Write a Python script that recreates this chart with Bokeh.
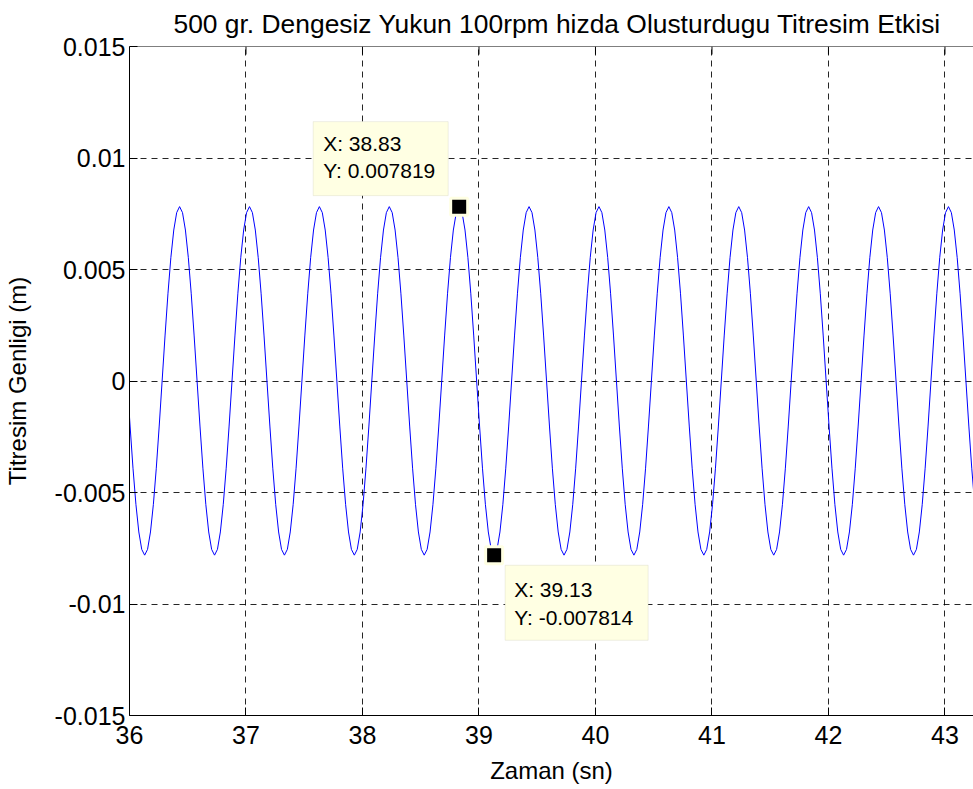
from bokeh.plotting import figure
from bokeh.models import Range1d, FixedTicker, BoxAnnotation, Label, Span
from bokeh.embed import file_html
from bokeh.resources import INLINE

# ---------------- data ----------------
title_text = "500 gr. Dengesiz Yukun 100rpm hizda Olusturdugu Titresim Etkisi"
x_label = "Zaman (sn)"
y_label = "Titresim Genligi (m)"

x_ticks = [36, 37, 38, 39, 40, 41, 42, 43]
y_ticks = [-0.015, -0.01, -0.005, 0, 0.005, 0.01, 0.015]
y_tick_labels = ["-0.015", "-0.01", "-0.005", "0", "0.005", "0.01", "0.015"]

# sample times: start and step of the recorded signal
t_start = 35.98
t_step = 0.025

# displacement amplitude (m)
amplitude = [
    0.0, -0.00202, -0.00391, -0.00553, -0.00677, -0.00755, -0.00781, -0.00755, -0.00677, -0.00553, -0.00391, -0.00202,
    0.0, 0.00202, 0.00391, 0.00553, 0.00677, 0.00755, 0.00782, 0.00755, 0.00677, 0.00553, 0.00391, 0.00202,
    0.0, -0.00202, -0.00391, -0.00553, -0.00677, -0.00755, -0.00781, -0.00755, -0.00677, -0.00553, -0.00391, -0.00202,
    0.0, 0.00202, 0.00391, 0.00553, 0.00677, 0.00755, 0.00782, 0.00755, 0.00677, 0.00553, 0.00391, 0.00202,
    0.0, -0.00202, -0.00391, -0.00553, -0.00677, -0.00755, -0.00781, -0.00755, -0.00677, -0.00553, -0.00391, -0.00202,
    0.0, 0.00202, 0.00391, 0.00553, 0.00677, 0.00755, 0.00782, 0.00755, 0.00677, 0.00553, 0.00391, 0.00202,
    0.0, -0.00202, -0.00391, -0.00553, -0.00677, -0.00755, -0.00781, -0.00755, -0.00677, -0.00553, -0.00391, -0.00202,
    0.0, 0.00202, 0.00391, 0.00553, 0.00677, 0.00755, 0.00782, 0.00755, 0.00677, 0.00553, 0.00391, 0.00202,
    0.0, -0.00202, -0.00391, -0.00553, -0.00677, -0.00755, -0.00781, -0.00755, -0.00677, -0.00553, -0.00391, -0.00202,
    0.0, 0.00202, 0.00391, 0.00553, 0.00677, 0.00755, 0.00782, 0.00755, 0.00677, 0.00553, 0.00391, 0.00202,
    0.0, -0.00202, -0.00391, -0.00553, -0.00677, -0.00755, -0.00781, -0.00755, -0.00677, -0.00553, -0.00391, -0.00202,
    0.0, 0.00202, 0.00391, 0.00553, 0.00677, 0.00755, 0.00782, 0.00755, 0.00677, 0.00553, 0.00391, 0.00202,
    0.0, -0.00202, -0.00391, -0.00553, -0.00677, -0.00755, -0.00781, -0.00755, -0.00677, -0.00553, -0.00391, -0.00202,
    0.0, 0.00202, 0.00391, 0.00553, 0.00677, 0.00755, 0.00782, 0.00755, 0.00677, 0.00553, 0.00391, 0.00202,
    0.0, -0.00202, -0.00391, -0.00553, -0.00677, -0.00755, -0.00781, -0.00755, -0.00677, -0.00553, -0.00391, -0.00202,
    0.0, 0.00202, 0.00391, 0.00553, 0.00677, 0.00755, 0.00782, 0.00755, 0.00677, 0.00553, 0.00391, 0.00202,
    0.0, -0.00202, -0.00391, -0.00553, -0.00677, -0.00755, -0.00781, -0.00755, -0.00677, -0.00553, -0.00391, -0.00202,
    0.0, 0.00202, 0.00391, 0.00553, 0.00677, 0.00755, 0.00782, 0.00755, 0.00677, 0.00553, 0.00391, 0.00202,
    0.0, -0.00202, -0.00391, -0.00553, -0.00677, -0.00755, -0.00781, -0.00755, -0.00677, -0.00553, -0.00391, -0.00202,
    0.0, 0.00202, 0.00391, 0.00553, 0.00677, 0.00755, 0.00782, 0.00755, 0.00677, 0.00553, 0.00391, 0.00202,
    0.0, -0.00202, -0.00391, -0.00553, -0.00677, -0.00755, -0.00781, -0.00755, -0.00677, -0.00553, -0.00391, -0.00202,
    0.0, 0.00202, 0.00391, 0.00553, 0.00677, 0.00755, 0.00782, 0.00755, 0.00677, 0.00553, 0.00391, 0.00202,
    0.0, -0.00202, -0.00391, -0.00553, -0.00677, -0.00755, -0.00781, -0.00755, -0.00677, -0.00553, -0.00391, -0.00202,
    0.0, 0.00202, 0.00391, 0.00553, 0.00677, 0.00755, 0.00782, 0.00755, 0.00677, 0.00553, 0.00391, 0.00202,
    0.0, -0.00202, -0.00391, -0.00553, -0.00677,
]
time = [t_start + t_step * k for k in range(len(amplitude))]

# data tips
tip_x = [38.83, 39.13]
tip_y = [0.007819, -0.007814]

# ---------------- layout ----------------
FONT = "Liberation Sans"
X0, X1 = 36, 43.245
Y0, Y1 = -0.015, 0.015
W, H = 973, 789
BL, BR, BT, BB = 129, 0, 46, 74
px_x = (W - BL - BR) / (X1 - X0)
px_y = (H - BT - BB) / (Y1 - Y0)

p = figure(width=W, height=H, x_range=Range1d(X0, X1), y_range=Range1d(Y0, Y1),
           output_backend="svg", toolbar_location=None,
           min_border_left=BL, min_border_right=BR, min_border_top=BT, min_border_bottom=BB)
p.outline_line_color = None
p.background_fill_color = "white"
p.border_fill_color = "white"

p.title.text = title_text
p.title.align = "left"
p.title.vertical_align = "top"
p.title.offset = 44
p.title.text_font = FONT
p.title.text_font_size = "26.4px"
p.title.text_font_style = "normal"
p.title.text_color = "black"
p.title.standoff = 11

for ax in (p.xaxis[0], p.yaxis[0]):
    ax.axis_line_color = "black"
    ax.major_tick_line_color = "black"
    ax.major_tick_in = 8
    ax.major_tick_out = 0
    ax.minor_tick_line_color = None
    ax.major_label_text_font = FONT
    ax.major_label_text_font_size = "25px"
    ax.major_label_text_color = "black"
    ax.axis_label_text_font = FONT
    ax.axis_label_text_font_size = "24px"
    ax.axis_label_text_font_style = "normal"
    ax.axis_label_text_color = "black"

p.xaxis.ticker = FixedTicker(ticks=x_ticks)
p.xaxis.major_label_standoff = 10
p.xaxis.axis_label = x_label
p.xaxis.axis_label_standoff = 10

p.yaxis.ticker = FixedTicker(ticks=y_ticks)
p.yaxis.major_label_overrides = {v: s for v, s in zip(y_ticks, y_tick_labels)}
p.yaxis.major_label_standoff = 4
p.yaxis.axis_label = y_label
p.yaxis.axis_label_standoff = 21

for g in (p.xgrid[0], p.ygrid[0]):
    g.grid_line_color = "black"
    g.grid_line_alpha = 0.85
    g.grid_line_dash = "6 5"
    g.grid_line_width = 1

# top box edge with inward ticks
p.add_layout(Span(location=Y1, dimension="width", line_color="black", line_width=1))
p.segment(x0=x_ticks, y0=[Y1] * len(x_ticks), x1=x_ticks,
          y1=[Y1 - 8 / px_y] * len(x_ticks), line_color="black", line_width=1)

p.line(time, amplitude, line_color="#0000FF", line_width=1)

# data tip boxes (offsets in screen pixels from the tip point)
tip_boxes = [(-146, -11, 85, 11), (11, 154, -10, -85)]   # left, right, top, bottom (px)
tip_text = [(-136, 63, 36), (20, -34, -62)]              # text x, line1 y, line2 y (px)
for (tx, ty), (l, r, t, b), (ox, y1, y2) in zip(zip(tip_x, tip_y), tip_boxes, tip_text):
    p.add_layout(BoxAnnotation(left=tx + l / px_x, right=tx + r / px_x,
                               top=ty + t / px_y, bottom=ty + b / px_y,
                               fill_color="#FFFFE3", fill_alpha=1,
                               line_color="#C9C9B5", line_width=1, level="overlay"))
    p.add_layout(Label(x=tx + ox / px_x, y=ty + y1 / px_y, text=f"X: {tx:.2f}",
                       text_font=FONT, text_font_size="21px", text_baseline="middle",
                       text_color="black", level="overlay"))
    p.add_layout(Label(x=tx + ox / px_x, y=ty + y2 / px_y, text=f"Y: {ty:g}",
                       text_font=FONT, text_font_size="21px", text_baseline="middle",
                       text_color="black", level="overlay"))

p.scatter(tip_x, tip_y, marker="square", size=17, fill_color="black",
          line_color="#FFFFE3", line_width=3)

open("out.html", "w").write(file_html(p, INLINE))
